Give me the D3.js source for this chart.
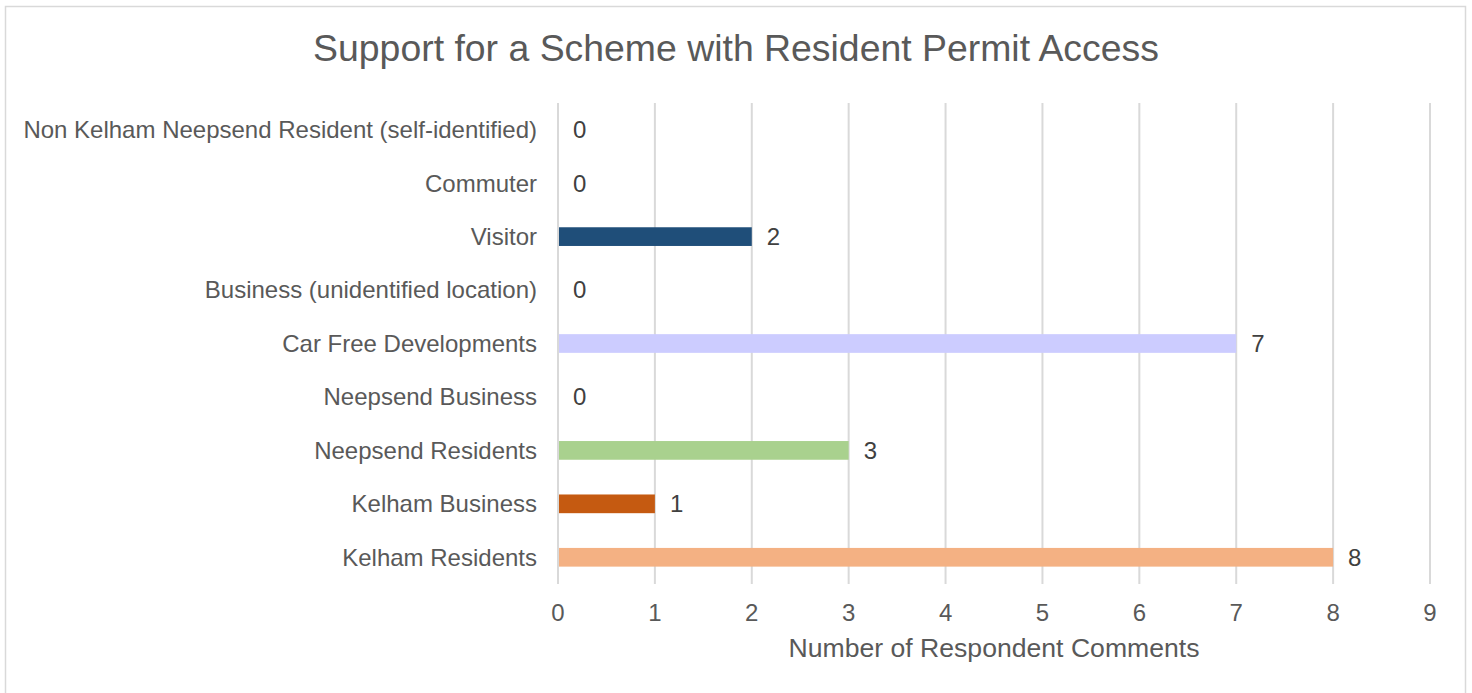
<!DOCTYPE html>
<html>
<head>
<meta charset="utf-8">
<script src="https://cdn.jsdelivr.net/npm/d3@7"></script>
<style>
  body { margin: 0; background: #fff; }
  svg { display: block; font-family: "Liberation Sans", Arial, sans-serif; }
</style>
</head>
<body>
<svg id="chart" width="1472" height="693"></svg>
<script>
// Données (de haut en bas)
const categories = [
  'Non Kelham Neepsend Resident (self-identified)',
  'Commuter',
  'Visitor',
  'Business (unidentified location)',
  'Car Free Developments',
  'Neepsend Business',
  'Neepsend Residents',
  'Kelham Business',
  'Kelham Residents'
]
const values = [0, 0, 2, 0, 7, 0, 3, 1, 8]
const barColors = ['#1f4e79', '#1f4e79', '#1f4e79', '#1f4e79', '#ccccff', '#a9d18e', '#a9d18e', '#c55a11', '#f4b183']
const xTicks = [0, 1, 2, 3, 4, 5, 6, 7, 8, 9]

const titleText = 'Support for a Scheme with Resident Permit Access'
const xAxisTitle = 'Number of Respondent Comments'

// Dimensions
const plotLeft = 558
const plotRight = 1430
const plotTop = 103
const plotBottom = 584
const labelSize = 24

const svg = d3.select('#chart')

// Cadre
svg.append('rect')
  .attr('x', 5.5).attr('y', 6.5)
  .attr('width', 1460).attr('height', 700)
  .attr('fill', 'none')
  .attr('stroke', '#d9d9d9')
  .attr('stroke-width', 1.5)

const x = d3.scaleLinear().domain([0, 9]).range([plotLeft, plotRight])
const y = d3.scaleBand().domain(categories).range([plotTop, plotBottom]).paddingInner(0.65).paddingOuter(0.325)

// Grille verticale
svg.append('g')
  .selectAll('line')
  .data(xTicks)
  .enter()
  .append('line')
  .attr('x1', d => x(d)).attr('x2', d => x(d))
  .attr('y1', plotTop).attr('y2', plotBottom)
  .attr('stroke', '#d9d9d9')
  .attr('stroke-width', 2)

// Barres
svg.append('g')
  .selectAll('rect')
  .data(categories)
  .enter()
  .append('rect')
  .attr('x', x(0) + 1)
  .attr('y', d => y(d))
  .attr('width', (d, i) => Math.max(0, x(values[i]) - x(0) - 1))
  .attr('height', y.bandwidth())
  .attr('fill', (d, i) => barColors[i])

// Étiquettes de valeurs
svg.append('g')
  .selectAll('text')
  .data(categories)
  .enter()
  .append('text')
  .attr('x', (d, i) => x(values[i]) + 15)
  .attr('y', d => y(d) + y.bandwidth() / 2)
  .attr('dy', '0.35em')
  .attr('font-size', labelSize)
  .attr('fill', '#404040')
  .text((d, i) => values[i])

// Étiquettes des catégories
svg.append('g')
  .selectAll('text')
  .data(categories)
  .enter()
  .append('text')
  .attr('x', plotLeft - 21)
  .attr('y', d => y(d) + y.bandwidth() / 2)
  .attr('dy', '0.35em')
  .attr('text-anchor', 'end')
  .attr('font-size', labelSize)
  .attr('fill', '#595959')
  .text(d => d)

// Graduations de l'axe x
svg.append('g')
  .selectAll('text')
  .data(xTicks)
  .enter()
  .append('text')
  .attr('x', d => x(d))
  .attr('y', 621)
  .attr('text-anchor', 'middle')
  .attr('font-size', labelSize)
  .attr('fill', '#595959')
  .text(d => d)

// Titre de l'axe x
svg.append('text')
  .attr('x', (plotLeft + plotRight) / 2)
  .attr('y', 657)
  .attr('text-anchor', 'middle')
  .attr('font-size', 26.6)
  .attr('fill', '#595959')
  .text(xAxisTitle)

// Titre
svg.append('text')
  .attr('x', 736)
  .attr('y', 61)
  .attr('text-anchor', 'middle')
  .attr('font-size', 37.4)
  .attr('fill', '#595959')
  .text(titleText)
</script>
</body>
</html>
